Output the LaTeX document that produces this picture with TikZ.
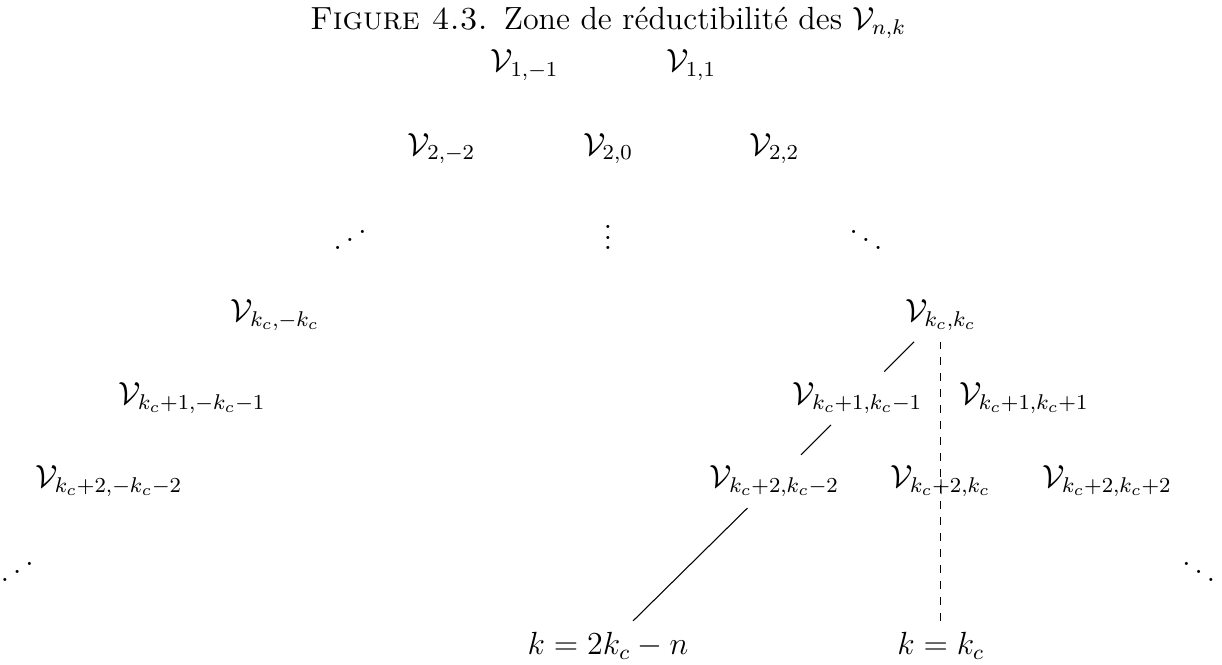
\documentclass[tikz,border=0pt,12pt]{standalone}
\usepackage{amsmath}

\newcommand{\antiddots}{\mathinner{\mkern1mu\raise1pt\hbox{.}\mkern2mu\raise4pt\hbox{.}\mkern2mu\raise7pt\vbox{\kern7pt\hbox{.}}\mkern1mu}}

\begin{document}
\begin{tikzpicture}[
		x=31.16pt, y=-31.16pt,
		every node/.style={anchor=base}
	]
	\useasboundingbox (-7.308,0.135) rectangle (7.380,8.127);
	\node (title) at (0,0.49) {\textsc{Figure 4.3.}\enspace Zone de réductibilité des $\mathcal{V}_{n,k}$};
	\node (v1m1) at (-1,1) {$\mathcal{V}_{1,-1}$};
	\node (v11) at (1,1) {$\mathcal{V}_{1,1}$};
	\node (v2m2) at (-2,2) {$\mathcal{V}_{2,-2}$};
	\node (v20) at (0,2) {$\mathcal{V}_{2,0}$};
	\node (v22) at (2,2) {$\mathcal{V}_{2,2}$};
	\node (dotsl) at (-3.1,3.172) {$\antiddots$};
	\node (dotsm) at (0,3.139) {$\vdots$};
	\node (dotsr) at (3.1,3.172) {$\ddots$};
	\node (vcmc) at (-4,4) {$\mathcal{V}_{k_c,-k_c}$};
	\node (vcc) at (4,4) {$\mathcal{V}_{k_c,k_c}$};
	\node (v1mc) at (-5,5) {$\mathcal{V}_{k_c+1,-k_c-1}$};
	\node (v1cm) at (3,5) {$\mathcal{V}_{k_c+1,k_c-1}$};
	\node (v1cp) at (5,5) {$\mathcal{V}_{k_c+1,k_c+1}$};
	\node (v2mc) at (-6,6) {$\mathcal{V}_{k_c+2,-k_c-2}$};
	\node (v2cm) at (2,6) {$\mathcal{V}_{k_c+2,k_c-2}$};
	\node (v2c) at (4,6) {$\mathcal{V}_{k_c+2,k_c}$};
	\node (v2cp) at (6,6) {$\mathcal{V}_{k_c+2,k_c+2}$};
	\node (dotsll) at (-7.1,7.162) {$\antiddots$};
	\node (dotsrr) at (7.1,7.162) {$\ddots$};
	\node (kmin) at (0,8) {$k=2k_c-n$};
	\node (kc) at (4,8) {$k=k_c$};
	\draw (vcc) -- (v1cm) -- (v2cm) -- (kmin);
	\draw[dashed] (kc) -- (vcc);
\end{tikzpicture}
\end{document}
